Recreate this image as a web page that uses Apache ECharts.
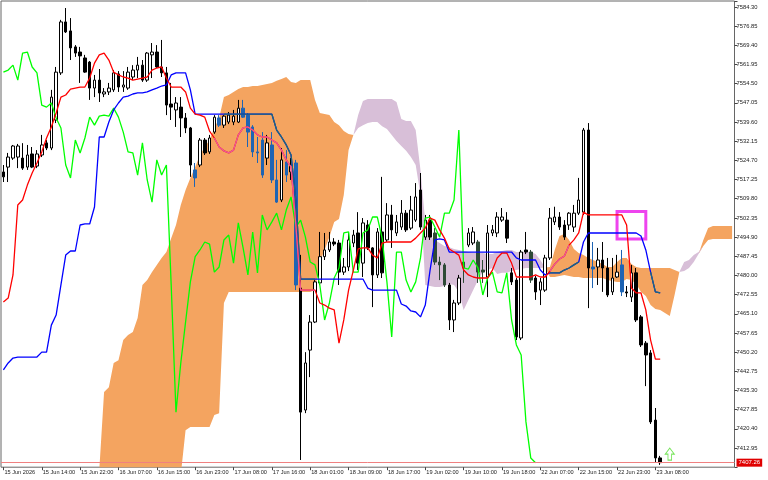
<!DOCTYPE html>
<html><head><meta charset="utf-8">
<script src="https://cdn.jsdelivr.net/npm/echarts@6/dist/echarts.min.js"></script>
<style>html,body{margin:0;padding:0;background:#fff}#c{width:768px;height:480px}</style>
</head><body><div id="c"></div>
<script>
const tickLabels = ['15 Jun 2026','15 Jun 14:00','15 Jun 22:00','16 Jun 07:00','16 Jun 15:00','16 Jun 23:00','17 Jun 08:00','17 Jun 16:00','18 Jun 01:00','18 Jun 09:00','18 Jun 17:00','19 Jun 02:00','19 Jun 10:00','19 Jun 18:00','22 Jun 07:00','22 Jun 15:00','22 Jun 23:00','23 Jun 08:00'];

const opens = [7520.2,7522.1,7525.6,7526.0,7525.6,7522.1,7527.2,7522.5,7526.8,7531.5,7529.5,7540.4,7558.7,7578.5,7575.0,7568.8,7566.8,7564.5,7562.9,7552.8,
7555.9,7550.5,7551.3,7552.1,7558.3,7553.2,7552.8,7557.1,7559.8,7561.7,7555.9,7565.7,7566.8,7561.0,7558.7,7546.6,7544.3,7545.4,7541.2,7537.3,
7521.0,7522.9,7532.6,7528.0,7535.7,7541.2,7538.4,7539.6,7539.6,7539.6,7545.0,7542.3,7537.7,7528.0,7532.6,7525.6,7530.7,7517.1,7509.3,7524.1,
7520.2,7523.7,7475.1,7427.7,7451.0,7461.9,7477.1,7487.3,7489.9,7493.0,7492.6,7481.3,7483.3,7492.6,7496.5,7484.8,7499.6,7490.7,7480.2,7496.9,
7493.8,7503.5,7496.5,7498.8,7504.2,7498.4,7501.5,7513.2,7494.9,7501.5,7496.5,7485.2,7484.1,7476.3,7462.7,7469.3,7485.2,7491.8,7492.6,7493.0,
7482.1,7479.4,7496.5,7496.5,7501.5,7501.5,7481.0,7478.2,7455.7,7489.9,7489.1,7479.0,7474.3,7474.3,7486.8,7500.8,7502.7,7499.6,7499.6,7498.8,
7504.2,7504.6,7536.5,7483.3,7483.3,7486.0,7482.9,7473.6,7479.4,7484.1,7473.6,7471.6,7481.0,7463.9,7453.7,7449.9,7423.8,7409.1];
const closes = [7518.3,7526.0,7530.3,7530.3,7521.7,7526.8,7522.1,7527.2,7530.7,7529.5,7549.3,7559.0,7578.5,7574.6,7568.4,7566.4,7565.3,7559.0,7552.8,7555.9,
7550.9,7551.3,7552.8,7558.7,7553.2,7554.0,7559.0,7559.8,7561.7,7555.9,7566.4,7566.8,7561.0,7558.7,7546.2,7545.4,7547.0,7541.2,7537.3,7522.9,
7517.9,7532.6,7527.6,7533.4,7541.5,7538.4,7541.9,7542.3,7541.9,7545.0,7541.5,7535.7,7528.0,7527.6,7519.0,7531.5,7517.1,7508.5,7524.9,7519.0,
7522.9,7476.3,7426.9,7446.0,7461.9,7477.5,7487.3,7489.9,7493.0,7492.2,7481.3,7483.3,7493.8,7495.7,7484.8,7500.4,7490.7,7480.2,7496.9,7481.0,
7503.5,7497.7,7500.8,7504.2,7497.7,7505.4,7510.5,7498.8,7501.5,7494.9,7485.2,7484.1,7476.3,7462.7,7469.3,7479.0,7482.9,7496.5,7496.9,7481.3,
7481.3,7496.5,7497.7,7502.7,7502.7,7494.5,7477.5,7456.1,7489.1,7489.1,7478.2,7473.6,7477.5,7486.8,7502.3,7502.7,7498.8,7494.9,7504.2,7504.2,
7509.3,7536.5,7482.9,7482.5,7486.0,7482.9,7472.4,7479.0,7481.3,7473.6,7473.2,7481.0,7462.7,7453.0,7449.1,7423.1,7409.1,7407.26];
const lows = [7516.3,7516.3,7524.9,7521.7,7521.0,7521.0,7521.7,7521.7,7526.0,7528.7,7528.7,7539.2,7557.9,7574.2,7563.7,7564.9,7554.8,7558.7,7548.2,7549.3,
7547.4,7549.3,7550.1,7551.3,7551.3,7551.3,7552.1,7555.9,7556.7,7555.2,7555.2,7556.7,7560.6,7557.1,7542.3,7540.4,7537.7,7533.8,7535.3,7518.3,
7514.4,7522.1,7526.8,7527.2,7535.0,7537.7,7537.3,7538.8,7538.4,7539.2,7541.2,7529.9,7526.0,7523.7,7517.9,7522.9,7515.9,7508.2,7508.5,7516.3,
7517.1,7474.3,7408.3,7426.5,7440.5,7461.5,7476.3,7486.0,7489.1,7491.4,7476.3,7480.2,7481.7,7491.0,7482.1,7479.4,7489.9,7467.7,7479.0,7479.0,
7493.0,7490.7,7495.3,7497.7,7496.9,7497.7,7500.8,7497.7,7493.8,7493.8,7484.1,7478.2,7475.5,7458.8,7458.0,7468.5,7477.1,7491.0,7491.8,7477.1,
7477.1,7471.6,7495.3,7494.9,7500.8,7492.6,7476.3,7454.9,7454.9,7488.3,7477.1,7470.5,7468.5,7473.6,7486.0,7499.6,7497.7,7493.8,7497.7,7496.9,
7503.5,7503.5,7467.3,7475.1,7476.3,7473.6,7471.6,7472.4,7479.0,7472.0,7471.6,7469.7,7461.9,7452.2,7437.0,7422.3,7407.5,7406.4];
const highs = [7522.9,7527.6,7530.7,7531.1,7531.4,7530.7,7529.9,7528.7,7534.6,7532.6,7552.1,7561.0,7579.3,7583.9,7580.0,7569.5,7568.8,7565.7,7563.3,7557.9,
7560.2,7552.8,7554.8,7559.8,7559.4,7559.4,7561.0,7561.7,7564.9,7563.7,7566.8,7570.3,7569.5,7571.5,7561.0,7554.8,7549.3,7549.3,7543.1,7537.7,
7523.7,7533.4,7533.4,7534.6,7542.3,7542.3,7542.3,7543.5,7544.3,7548.2,7548.2,7543.1,7538.4,7533.8,7535.7,7534.6,7535.7,7524.9,7529.5,7528.7,
7525.6,7524.9,7488.0,7450.2,7464.6,7478.2,7496.9,7496.5,7496.9,7494.5,7493.8,7486.8,7496.5,7497.7,7504.6,7502.3,7501.5,7491.0,7498.4,7518.3,
7508.1,7507.4,7503.5,7509.3,7505.4,7510.9,7515.9,7519.8,7503.5,7503.5,7498.4,7487.3,7484.8,7477.1,7470.5,7480.2,7486.8,7498.4,7498.8,7493.8,
7486.0,7499.6,7499.6,7504.6,7506.2,7504.6,7482.9,7479.0,7489.9,7496.9,7489.9,7479.8,7479.0,7488.0,7506.2,7506.7,7504.6,7501.5,7504.6,7507.4,
7517.9,7537.3,7539.2,7493.0,7490.7,7493.0,7486.8,7486.8,7488.0,7489.9,7475.9,7484.1,7482.9,7464.6,7454.5,7451.0,7428.5,7409.9];

const tenkan = [7469.7,7471.2,7480.2,7507.4,7509.3,7515.1,7519.8,7523.7,7528.0,7533.4,7537.7,7543.1,7549.3,7550.1,7552.4,7552.8,7553.2,7553.2,7556.7,7562.5,
7565.7,7566.4,7563.7,7559.0,7557.9,7557.1,7556.7,7555.9,7556.3,7556.7,7557.1,7559.8,7560.6,7561.0,7556.7,7553.2,7553.2,7553.2,7551.3,7545.0,
7542.7,7542.3,7541.5,7536.1,7533.4,7529.9,7528.4,7527.6,7528.7,7534.6,7537.3,7537.7,7536.5,7534.6,7533.8,7533.8,7532.6,7531.5,7528.7,7524.9,
7522.1,7499.6,7474.3,7474.3,7474.3,7474.3,7469.3,7468.5,7467.3,7466.6,7453.7,7462.7,7474.3,7482.1,7490.3,7490.7,7490.7,7487.9,7486.8,7492.6,
7493.0,7493.0,7493.0,7493.0,7493.0,7493.0,7494.5,7496.5,7498.4,7502.3,7501.5,7497.7,7494.5,7490.3,7489.1,7487.9,7482.1,7480.2,7479.4,7479.0,
7479.0,7479.0,7482.1,7486.8,7488.7,7488.7,7484.8,7479.4,7479.4,7479.4,7479.4,7480.2,7479.4,7479.4,7481.7,7484.4,7486.4,7487.5,7491.8,7493.8,
7496.5,7504.6,7503.5,7503.5,7503.5,7503.5,7503.5,7503.5,7503.5,7503.5,7499.6,7475.1,7473.2,7473.2,7466.6,7454.9,7447.5,7447.5];
const kijun = [7443.3,7446.0,7447.9,7448.3,7448.3,7448.3,7448.3,7448.3,7450.2,7450.2,7460.7,7464.6,7476.3,7487.9,7489.5,7489.5,7499.6,7500.0,7500.0,7506.6,
7533.8,7533.8,7539.6,7544.3,7547.0,7549.3,7549.7,7550.5,7550.9,7550.9,7551.3,7552.1,7552.8,7553.6,7554.0,7557.9,7558.7,7558.7,7558.7,7552.1,
7542.7,7542.7,7542.7,7542.7,7542.7,7542.7,7542.7,7542.7,7542.7,7542.7,7542.7,7542.7,7542.7,7542.7,7542.7,7542.7,7542.7,7536.5,7533.8,7530.7,
7526.8,7509.3,7478.6,7478.6,7478.6,7478.6,7478.6,7478.6,7478.6,7478.6,7478.6,7478.6,7478.6,7478.6,7478.6,7478.6,7475.1,7474.3,7474.3,7474.3,
7474.3,7474.3,7474.3,7468.9,7468.1,7466.2,7465.8,7463.9,7468.5,7482.1,7493.8,7494.2,7493.8,7489.1,7489.1,7489.1,7489.1,7489.1,7489.1,7489.1,
7489.1,7489.1,7489.1,7489.1,7489.1,7489.1,7489.1,7486.8,7486.0,7486.0,7486.0,7486.0,7482.1,7480.2,7481.0,7481.0,7481.0,7482.1,7482.9,7484.1,
7485.2,7493.0,7496.5,7496.5,7496.5,7496.5,7496.5,7496.5,7496.5,7496.5,7496.5,7496.5,7496.5,7495.3,7489.9,7481.3,7473.6,7473.2];

const spanA = [7377.2,7377.2,7377.2,7377.2,7377.2,7377.2,7377.2,7377.2,7377.2,7377.2,7377.2,7377.2,7377.2,7377.2,7377.2,7377.2,7377.2,7377.2,7377.2,7377.2,
7404.4,7434.7,7436.6,7446.0,7447.1,7454.9,7456.9,7458.0,7463.5,7476.3,7478.2,7481.3,7484.1,7486.8,7489.1,7494.5,7499.6,7507.4,7513.2,7517.9,
7522.1,7526.8,7529.9,7532.6,7537.3,7541.2,7549.3,7550.1,7551.3,7552.4,7553.2,7553.2,7553.6,7553.6,7554.0,7554.4,7554.8,7555.6,7556.3,7557.1,
7555.2,7554.8,7555.9,7555.9,7555.9,7548.2,7543.1,7542.7,7542.3,7539.6,7538.4,7536.1,7535.0,7534.6,7537.3,7538.4,7539.2,7539.6,7539.6,7538.0,
7536.9,7534.6,7532.2,7530.3,7528.4,7526.0,7522.9,7511.3,7476.3,7475.9,7475.5,7475.5,7475.9,7476.7,7476.3,7473.6,7466.6,7470.5,7474.3,7478.2,
7481.3,7482.1,7482.9,7480.6,7481.0,7481.0,7481.7,7482.1,7482.5,7482.9,7482.9,7482.9,7482.9,7483.1,7483.3,7489.9,7495.3,7496.1,7493.8,7490.3,
7488.7,7487.9,7486.8,7486.0,7485.2,7484.4,7483.3,7483.3,7485.2,7486.8,7486.8,7484.4,7483.3,7482.9,7482.9,7482.9,7482.9,7482.9,7482.9,7482.9,
7482.1,7481.3,7481.7,7482.9,7485.2,7488.3,7493.8,7498.4,7499.2,7499.2,7499.2,7499.2,7499.2];
const spanB = [7370.0,7370.0,7370.0,7370.0,7370.0,7370.0,7370.0,7370.0,7370.0,7370.0,7370.0,7370.0,7370.0,7370.0,7370.0,7370.0,7370.0,7370.0,7370.0,7370.0,
7370.0,7370.0,7370.0,7370.0,7370.0,7370.0,7370.0,7370.0,7370.0,7370.0,7370.0,7370.0,7370.0,7370.0,7370.0,7370.0,7370.0,7402.5,7419.9,7421.1,
7421.1,7421.1,7421.1,7421.1,7425.8,7426.5,7469.3,7473.6,7473.6,7473.6,7473.6,7473.6,7473.6,7473.6,7473.6,7473.6,7473.6,7473.6,7473.6,7473.6,
7473.6,7473.6,7473.6,7473.6,7473.6,7474.3,7485.2,7489.9,7494.9,7500.8,7501.9,7511.3,7528.7,7534.6,7542.3,7547.8,7548.6,7548.6,7548.6,7548.6,
7548.6,7548.6,7547.4,7540.8,7540.0,7540.0,7536.5,7521.0,7500.8,7495.3,7493.8,7492.6,7491.4,7491.0,7490.3,7489.9,7489.5,7489.1,7488.7,7488.7,
7488.7,7488.3,7488.3,7489.1,7489.5,7489.9,7489.9,7489.1,7489.1,7489.1,7489.1,7488.3,7486.0,7483.1,7479.4,7479.4,7479.8,7480.2,7479.8,7479.4,
7479.4,7479.0,7479.0,7479.0,7479.0,7479.0,7478.2,7477.8,7477.5,7477.5,7478.6,7478.2,7476.7,7473.6,7472.0,7468.5,7467.0,7466.6,7465.4,7464.2,
7472.4,7481.3,7485.2,7486.0,7487.9,7489.1,7491.4,7493.8,7494.2,7494.2,7494.2,7494.2,7494.2];

const currentPrice = 7407.26;
const signalArrow = [139, 7410.6];
const alertBox = [128, 7504.8, 134, 7494.2];
const SLOTS = 153;

const categories = Array.from({length: SLOTS}, (_, i) => String(i));
const cloudLow = spanA.map((a, i) => Math.min(a, spanB[i]));
const orangeDiff = spanA.map((a, i) => a > spanB[i] ? a - spanB[i] : 0);
const purpleDiff = spanA.map((a, i) => spanB[i] > a ? spanB[i] - a : 0);
const inOrange = (v, i) => i < spanA.length && spanA[i] > spanB[i] && v <= spanA[i] && v >= spanB[i];
const inPurple = (v, i) => i < spanA.length && spanB[i] > spanA[i] && v <= spanB[i] && v >= spanA[i];

const candleData = opens.map((o, i) => {
  const c = closes[i];
  const bear = c < o;
  let col = bear ? '#000000' : '#ffffff';
  let bc = '#000000';
  const mid = (o + c) / 2;
  if (bear && inOrange(mid, i)) { col = '#1E64B4'; bc = '#1E64B4'; }
  else if (bear && inPurple(mid, i)) { col = '#2E4A36'; bc = '#2E4A36'; }
  return { value: [o, c, lows[i], highs[i]], itemStyle: { color: col, color0: col, borderColor: bc, borderColor0: bc } };
});

// portions of a line lying inside the orange cloud (drawn in the blended colour)
const insideOnly = (arr) => arr.map((v, i) => inOrange(v, i) ? v : null);

const FONT = 'Liberation Sans';
const chart = echarts.init(document.getElementById('c'), null, { renderer: 'canvas' });
const lineBase = { type: 'line', symbol: 'none', showSymbol: false, silent: true, animation: false };

chart.setOption({
  animation: false,
  backgroundColor: '#ffffff',
  grid: { left: 1, right: 33.5, top: 1, bottom: 12.8, show: true, borderColor: '#666', borderWidth: 1, backgroundColor: '#fff' },
  xAxis: {
    type: 'category', data: categories, boundaryGap: true,
    axisLine: { show: false },
    axisTick: { show: true, alignWithLabel: true, length: 3, lineStyle: { color: '#444' }, interval: (idx) => idx % 8 === 0 && idx <= 136 },
    axisLabel: { show: true, interval: (idx) => idx % 8 === 0 && idx <= 136, formatter: (v, idx) => tickLabels[idx / 8] || '', align: 'left', margin: 2, fontSize: 5.6, color: '#222', fontFamily: FONT, padding: [0, 0, 0, 1] },
    splitLine: { show: false }
  },
  yAxis: {
    type: 'value', position: 'right', min: 7405.50, max: 7586.63, interval: 7.45,
    axisLine: { show: false },
    axisTick: { show: true, length: 3, lineStyle: { color: '#444' } },
    axisLabel: { show: true, margin: 2, fontSize: 5.8, color: '#222', fontFamily: FONT, formatter: (v) => (v < 7406 || v > 7585) ? '' : v.toFixed(2) },
    splitLine: { show: false }
  },
  series: [
    Object.assign({}, lineBase, { name: 'baseO', stack: 'o', data: cloudLow, lineStyle: { width: 0, opacity: 0 }, z: 1 }),
    Object.assign({}, lineBase, { name: 'cloudO', stack: 'o', data: orangeDiff, lineStyle: { width: 0, opacity: 0 }, areaStyle: { color: '#F4A460', opacity: 1 }, z: 1 }),
    Object.assign({}, lineBase, { name: 'baseP', stack: 'p', data: cloudLow, lineStyle: { width: 0, opacity: 0 }, z: 1 }),
    Object.assign({}, lineBase, { name: 'cloudP', stack: 'p', data: purpleDiff, lineStyle: { width: 0, opacity: 0 }, areaStyle: { color: '#D8BFD8', opacity: 1 }, z: 1 }),
    {
      type: 'candlestick', name: 'price', data: candleData, barWidth: 3, z: 3, silent: true,
      itemStyle: { color: '#fff', color0: '#000', borderColor: '#000', borderColor0: '#000', borderWidth: 1 },
      markLine: {
        silent: true, symbol: ['none', 'none'], animation: false,
        data: [{ yAxis: currentPrice }],
        lineStyle: { color: '#F08080', width: 1, type: 'solid' },
        label: { show: true, position: 'end', distance: 2, formatter: () => currentPrice.toFixed(2), color: '#fff', backgroundColor: '#E00000', fontSize: 6, fontFamily: FONT, padding: [1, 2] }
      }
    },
    Object.assign({}, lineBase, { name: 'chikou', data: closes.slice(26), lineStyle: { width: 1.3, color: '#00FF00' }, z: 4 }),
    Object.assign({}, lineBase, { name: 'kijun', data: kijun, lineStyle: { width: 1.3, color: '#0000FF' }, z: 4 }),
    Object.assign({}, lineBase, { name: 'kijunIn', data: insideOnly(kijun), connectNulls: false, lineStyle: { width: 1.3, color: '#1E6A75' }, z: 4 }),
    Object.assign({}, lineBase, { name: 'tenkan', data: tenkan, lineStyle: { width: 1.3, color: '#FF0000' }, z: 4 }),
    Object.assign({}, lineBase, { name: 'tenkanIn', data: insideOnly(tenkan), connectNulls: false, lineStyle: { width: 1.3, color: '#EC5A98' }, z: 4 }),
    {
      type: 'scatter', name: 'signal', z: 6, silent: true,
      data: [signalArrow],
      symbol: 'path://M5,0 L10,6 L7,6 L7,12 L3,12 L3,6 L0,6 Z', symbolSize: [9, 12],
      itemStyle: { color: '#ffffff', borderColor: '#55DD33', borderWidth: 1 },
      markArea: {
        silent: true,
        itemStyle: { color: 'rgba(0,0,0,0)', borderColor: '#EE44EE', borderWidth: 3 },
        data: [[{ xAxis: alertBox[0], yAxis: alertBox[1] }, { xAxis: alertBox[2], yAxis: alertBox[3] }]]
      }
    }
  ]
});
</script>
</body></html>
